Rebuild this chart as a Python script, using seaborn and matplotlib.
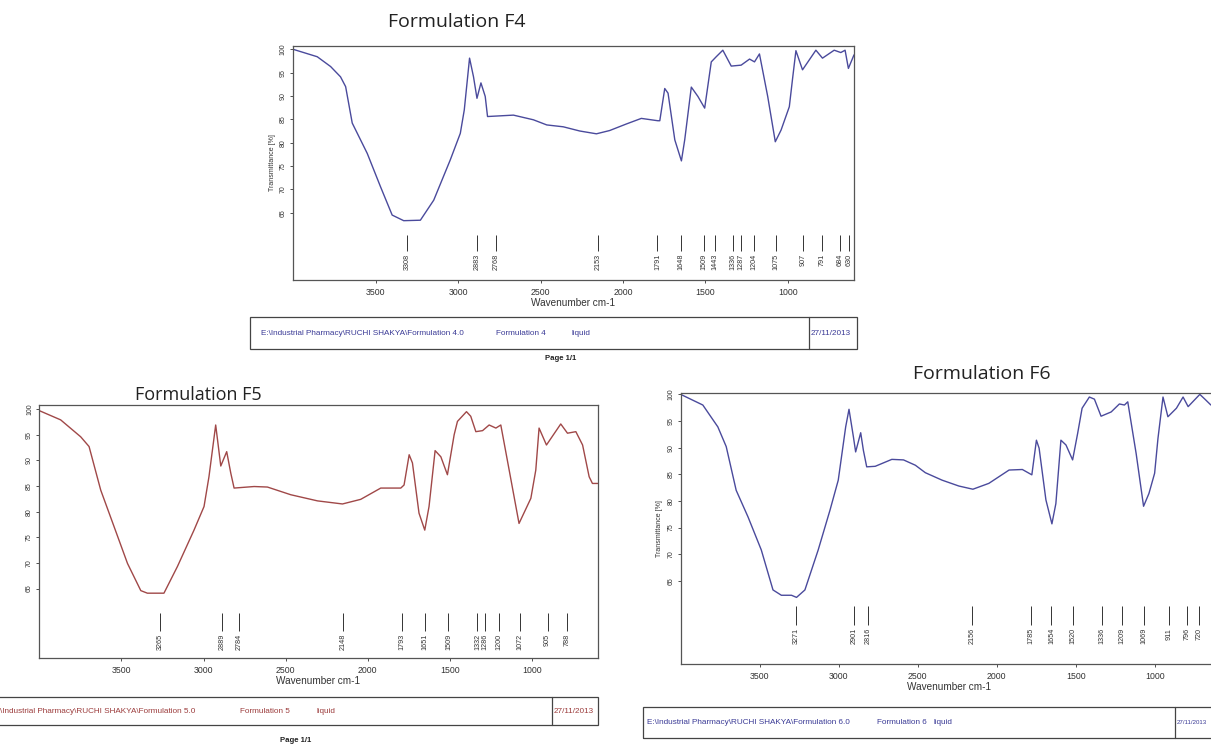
import numpy as np
import pandas as pd
import matplotlib
matplotlib.use("Agg")
import matplotlib.pyplot as plt
import seaborn as sns
from matplotlib.patches import Rectangle
from matplotlib.lines import Line2D

# spectra (wavenumber cm-1, transmittance %)
f4_wn = [4000, 3853, 3772, 3712, 3681, 3641, 3550, 3470, 3399, 3329, 3228, 3147, 3047, 2986, 2962,
         2930, 2906, 2885, 2861, 2835, 2821, 2664, 2543, 2462, 2362, 2262, 2161, 2081, 1980, 1889,
         1789, 1777, 1747, 1727, 1686, 1646, 1626, 1586, 1546, 1505, 1465, 1435, 1395, 1344, 1284,
         1233, 1203, 1173, 1123, 1077, 1042, 992, 972, 952, 912, 831, 791, 720, 680, 654, 634, 600]
f4_t = [100.0, 98.4, 96.3, 94.1, 92.0, 84.2, 77.7, 70.6, 64.5, 63.3, 63.4, 67.7, 76.3, 82.0, 87.0,
        98.1, 94.1, 89.5, 92.8, 89.9, 85.6, 85.9, 84.9, 83.8, 83.4, 82.5, 81.9, 82.6, 84.0, 85.2,
        84.7, 84.7, 91.6, 90.6, 80.6, 76.1, 80.6, 91.9, 89.9, 87.4, 97.3, 98.4, 99.8, 96.4, 96.6,
        97.9, 97.3, 99.0, 89.9, 80.2, 82.7, 87.7, 93.8, 99.7, 95.6, 99.8, 98.1, 99.8, 99.3, 99.8, 95.9, 98.8]
f4_peaks = [3308, 2883, 2768, 2153, 1791, 1648, 1509, 1443, 1336, 1287, 1204, 1075, 907, 791, 684, 630]

f5_wn = [4000, 3870, 3748, 3697, 3626, 3545, 3463, 3382, 3342, 3241, 3159, 3058, 2997, 2967, 2926,
         2895, 2859, 2834, 2814, 2692, 2611, 2469, 2306, 2154, 2043, 1921, 1799, 1779, 1748, 1728,
         1688, 1653, 1627, 1590, 1555, 1515, 1474, 1454, 1399, 1373, 1342, 1301, 1261, 1220, 1190,
         1139, 1079, 1007, 977, 957, 912, 825, 784, 733, 692, 652, 632, 600]
f5_t = [99.7, 97.9, 94.6, 92.7, 84.2, 77.1, 69.9, 64.6, 64.1, 64.1, 69.3, 76.4, 81.0, 86.8, 96.9,
        88.9, 91.7, 87.5, 84.6, 84.9, 84.8, 83.3, 82.1, 81.5, 82.4, 84.6, 84.6, 85.2, 91.1, 89.5,
        79.7, 76.4, 81.0, 91.9, 90.7, 87.2, 95.0, 97.6, 99.5, 98.6, 95.6, 95.8, 96.9, 96.3, 96.9,
        88.1, 77.7, 82.6, 88.1, 96.3, 93.0, 97.1, 95.3, 95.6, 93.0, 86.8, 85.5, 85.5]
f5_peaks = [3265, 2889, 2784, 2148, 1793, 1651, 1509, 1332, 1286, 1200, 1072, 905, 788]

f6_wn = [4000, 3860, 3765, 3712, 3649, 3574, 3490, 3416, 3363, 3299, 3267, 3214, 3130, 3055, 3003,
         2956, 2935, 2907, 2893, 2861, 2844, 2823, 2769, 2664, 2590, 2515, 2452, 2346, 2240, 2151,
         2050, 1922, 1838, 1778, 1749, 1732, 1689, 1651, 1626, 1594, 1562, 1520, 1488, 1460, 1414,
         1382, 1340, 1276, 1224, 1192, 1171, 1118, 1071, 1037, 1001, 980, 948, 917, 863, 821, 789,
         715, 683, 645]
f6_t = [100.0, 98.0, 93.9, 90.2, 82.0, 77.0, 70.8, 63.3, 62.3, 62.3, 61.9, 63.3, 70.8, 78.3, 83.9,
        93.9, 97.2, 92.0, 89.2, 92.8, 89.5, 86.4, 86.5, 87.8, 87.7, 86.7, 85.3, 83.9, 82.8, 82.2,
        83.3, 85.8, 85.9, 84.9, 91.4, 89.9, 80.2, 75.7, 79.5, 91.4, 90.5, 87.7, 92.7, 97.4, 99.5,
        99.1, 95.9, 96.7, 98.2, 98.0, 98.6, 88.9, 79.0, 81.4, 85.2, 91.7, 99.5, 95.8, 97.4, 99.5, 97.7,
        100.0, 99.1, 98.0]
f6_peaks = [3271, 2901, 2816, 2156, 1785, 1654, 1520, 1336, 1209, 1069, 911, 796, 720]

x_ticks = [3500, 3000, 2500, 2000, 1500, 1000]
y_ticks = [65, 70, 75, 80, 85, 90, 95, 100]

W, H = 1211, 746

sns.set_theme(style="ticks")
plt.rcParams['font.family'] = ['Liberation Sans', 'DejaVu Sans']

fig = plt.figure(figsize=(W / 100, H / 100), dpi=100)
fig.patch.set_facecolor('white')


def box(l, t, r, b):
    # pixel box -> figure fraction [left, bottom, width, height]
    return [l / W, 1 - b / H, (r - l) / W, (b - t) / H]


def fx(x):
    return x / W


def fy(y):
    return 1 - y / H


def panel(rect, wn, t, peaks, color, ylim, ylabel=True):
    ax = fig.add_axes(rect)
    df = pd.DataFrame({'wn': wn, 't': t})
    sns.lineplot(data=df, x='wn', y='t', ax=ax, color=color, lw=1.0, estimator=None, sort=False)
    ax.set_xlim(4000, 600)
    ax.set_ylim(*ylim)
    ax.set_xticks(x_ticks)
    ax.set_yticks(y_ticks)
    ax.tick_params(axis='x', labelsize=6.3, length=2.5, width=0.6, pad=3, colors='#333333')
    ax.tick_params(axis='y', labelsize=5, length=2.5, width=0.6, pad=2, colors='#333333')
    for lbl in ax.get_yticklabels():
        lbl.set_rotation(90)
        lbl.set_va('center')
    for s in ax.spines.values():
        s.set_visible(True)
        s.set_color('#555555')
        s.set_linewidth(0.9)
    # peak pick markers
    ax.vlines(peaks, 56.8, 60.2, color='#333333', lw=0.7)
    for p in peaks:
        ax.text(p, 56.2, str(p), rotation=90, ha='center', va='top', fontsize=5.2, color='#333333')
    ax.set_xlabel('Wavenumber cm-1', fontsize=7.2, labelpad=1, color='#333333')
    if ylabel:
        ax.set_ylabel('Transmittance [%]', fontsize=5, labelpad=3, color='#333333')
    else:
        ax.set_ylabel('')
    return ax


ax4 = panel(box(293, 46, 854, 280), f4_wn, f4_t, f4_peaks, '#4a4a9c', (50.6, 100.7))
ax5 = panel(box(39.3, 405, 597.7, 658.3), f5_wn, f5_t, f5_peaks, '#a04848', (51.4, 100.8), ylabel=False)
ax6 = panel(box(680.7, 393.3, 1218, 664), f6_wn, f6_t, f6_peaks, '#4a4a9c', (49.4, 100.2))

title_font = ['Open Sans', 'DejaVu Sans']
fig.text(fx(457), fy(22), 'Formulation F4', ha='center', va='center', fontsize=14, family=title_font, color='#222222')
fig.text(fx(198), fy(395), 'Formulation F5', ha='center', va='center', fontsize=13, family=title_font, color='#222222')
fig.text(fx(982), fy(374), 'Formulation F6', ha='center', va='center', fontsize=14, family=title_font, color='#222222')


def footer(l, t, r, b, div, texts, color, page=None):
    fig.add_artist(Rectangle((fx(l), fy(b)), fx(r) - fx(l), fy(t) - fy(b), transform=fig.transFigure,
                             fill=False, ec='#444444', lw=0.9))
    fig.add_artist(Line2D([fx(div), fx(div)], [fy(t), fy(b)], transform=fig.transFigure, color='#444444', lw=0.9))
    ym = fy((t + b) / 2)
    for x, s, size in texts:
        fig.text(fx(x), ym, s, ha='left', va='center', fontsize=size, color=color)
    if page is not None:
        fig.text(fx(page[0]), fy(page[1]), 'Page 1/1', ha='center', va='center', fontsize=5.6,
                 color='#222222', weight='bold')


footer(250, 317.3, 856.7, 349.3, 809.3,
       [(261, r'E:\Industrial Pharmacy\RUCHI SHAKYA\Formulation 4.0', 5.9), (496, 'Formulation 4', 5.9),
        (572, 'liquid', 5.9), (811, '27/11/2013', 5.9)], '#3a3a96', page=(561, 359))
footer(-5, 697.3, 597.7, 725, 552.3,
       [(0, r'\Industrial Pharmacy\RUCHI SHAKYA\Formulation 5.0', 5.9), (240, 'Formulation 5', 5.9),
        (317, 'liquid', 5.9), (554, '27/11/2013', 5.9)], '#9c3c3c', page=(296, 741))
footer(643.3, 707.3, 1230, 738, 1175,
       [(647, r'E:\Industrial Pharmacy\RUCHI SHAKYA\Formulation 6.0', 5.9), (877, 'Formulation 6', 5.9),
        (933, 'liquid', 5.9), (1177, '27/11/2013', 4.4)], '#3a3a96')

fig.savefig('out.png', dpi=100, facecolor='white')
